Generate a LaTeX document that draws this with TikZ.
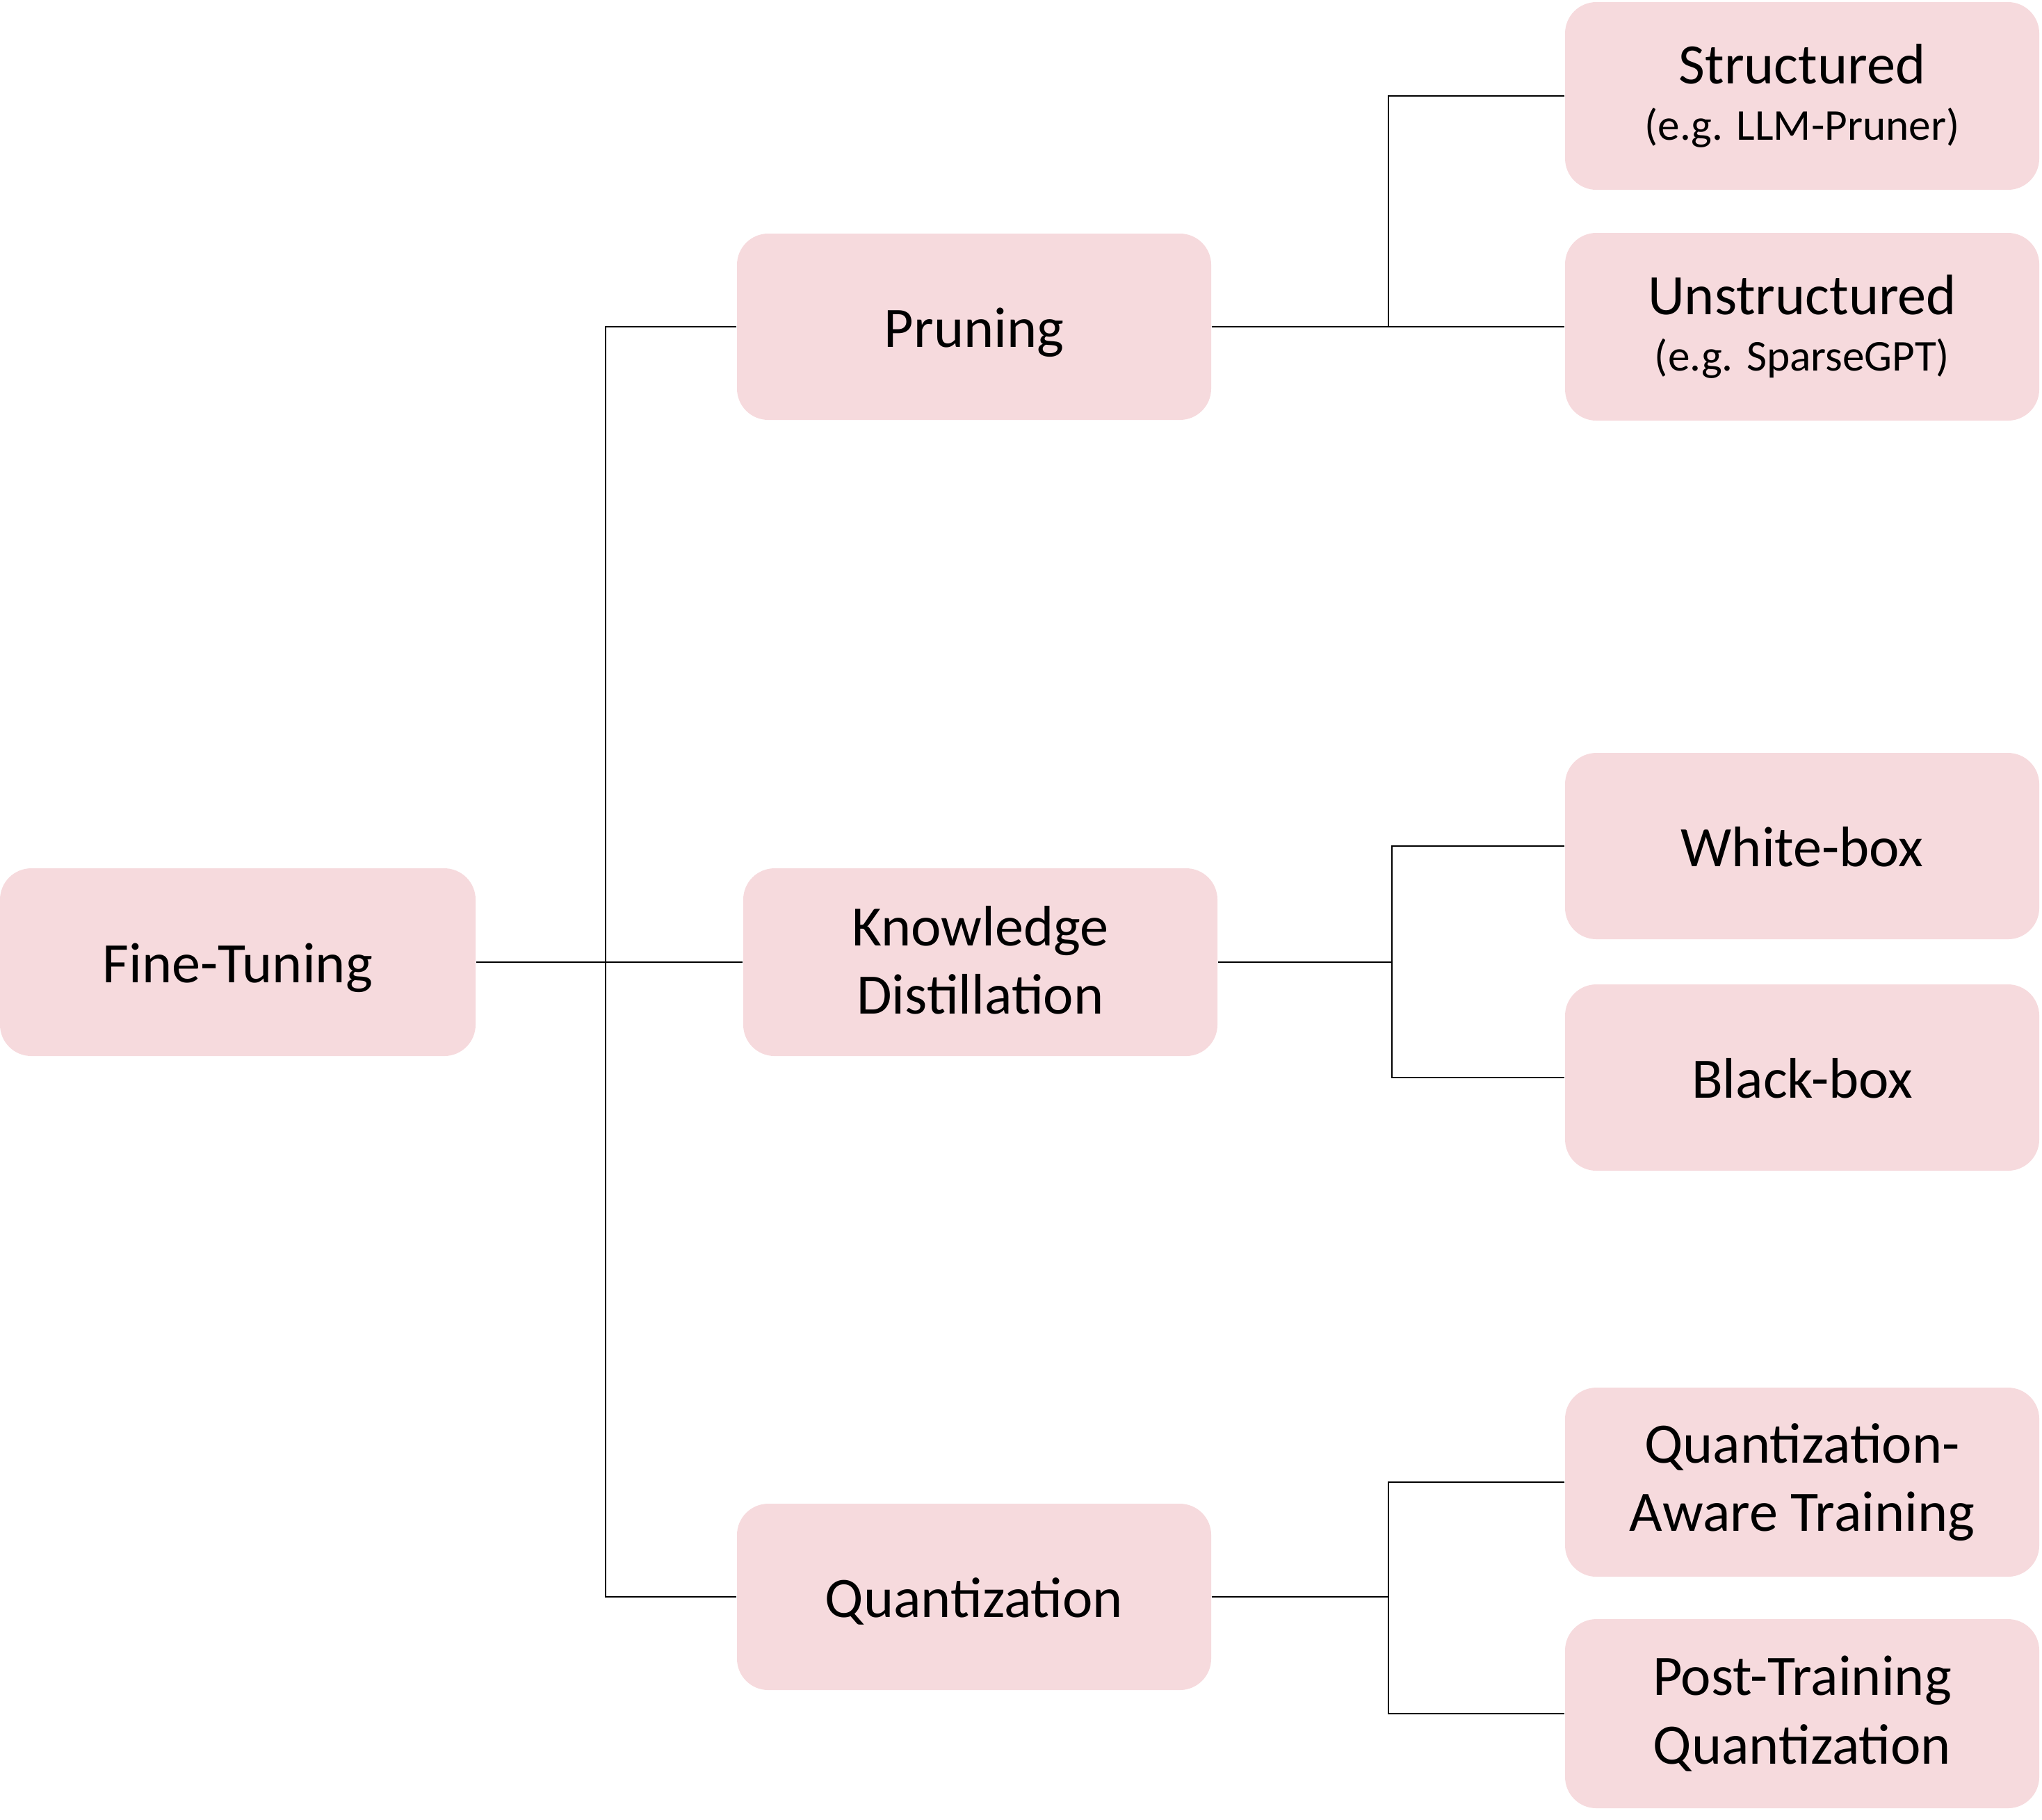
\documentclass[tikz,border=0pt]{standalone}
\usepackage{fontspec}
\setmainfont{Carlito}
\definecolor{boxpink}{RGB}{246,218,221}
\tikzset{
  strutH/.store in=\strutH, strutD/.store in=\strutD,
  strutH=22.3pt, strutD=5.7pt,
  box/.style={fill=boxpink, draw=none, rounded corners=0.45cm, minimum width=6.82cm, minimum height=2.70cm, inner sep=0pt, align=center, font=\fontsize{23.4}{28}\selectfont, execute at begin node={\rule{0pt}{\strutH}}, execute at end node={\rule[-\strutD]{0pt}{0pt}}},
  multi/.style={strutH=26.1pt, strutD=1.9pt},
  conn/.style={draw=black, line width=0.8pt}
}
\newcommand{\subline}[1]{{\fontsize{18}{22}\selectfont #1}}
\begin{document}
\begin{tikzpicture}
\useasboundingbox (0,0) rectangle (29.37,-26.17);
\node[box, minimum width=6.84cm] (ft) at (3.42,-13.84) {Fine-Tuning};
\node[box, minimum height=2.68cm] (pr) at (14.01,-4.70) {Pruning};
\node[box, multi] (kd) at (14.10,-13.84) {Knowledge\\Distillation};
\node[box, minimum height=2.68cm] (qu) at (14.01,-22.97) {Quantization};
\node[box, multi] (st) at (25.92,-1.38) {Structured\\[-5pt]\subline{(e.g. LLM-Pruner)}};
\node[box, multi] (un) at (25.92,-4.70) {Unstructured\\[-5pt]\subline{(e.g. SparseGPT)}};
\node[box, minimum height=2.68cm] (wb) at (25.92,-12.17) {White-box};
\node[box, minimum height=2.68cm] (bb) at (25.92,-15.50) {Black-box};
\node[box, multi, minimum height=2.72cm] (qat) at (25.92,-21.32) {Quantization-\\Aware Training};
\node[box, multi, minimum height=2.72cm] (ptq) at (25.92,-24.65) {Post-Training\\Quantization};
\coordinate (j1) at (8.71,-13.84);
\coordinate (j2) at (19.97,-4.70);
\coordinate (j3) at (20.02,-13.84);
\coordinate (j4) at (19.97,-22.97);
\draw[conn] (ft.east) -- (kd.west);
\draw[conn] (pr.west) -| (j1) |- (qu.west);
\draw[conn] (pr.east) -- (un.west);
\draw[conn] (st.west) -| (j2);
\draw[conn] (kd.east) -- (j3);
\draw[conn] (wb.west) -| (j3) |- (bb.west);
\draw[conn] (qu.east) -- (j4);
\draw[conn] (qat.west) -| (j4) |- (ptq.west);
\end{tikzpicture}
\end{document}
